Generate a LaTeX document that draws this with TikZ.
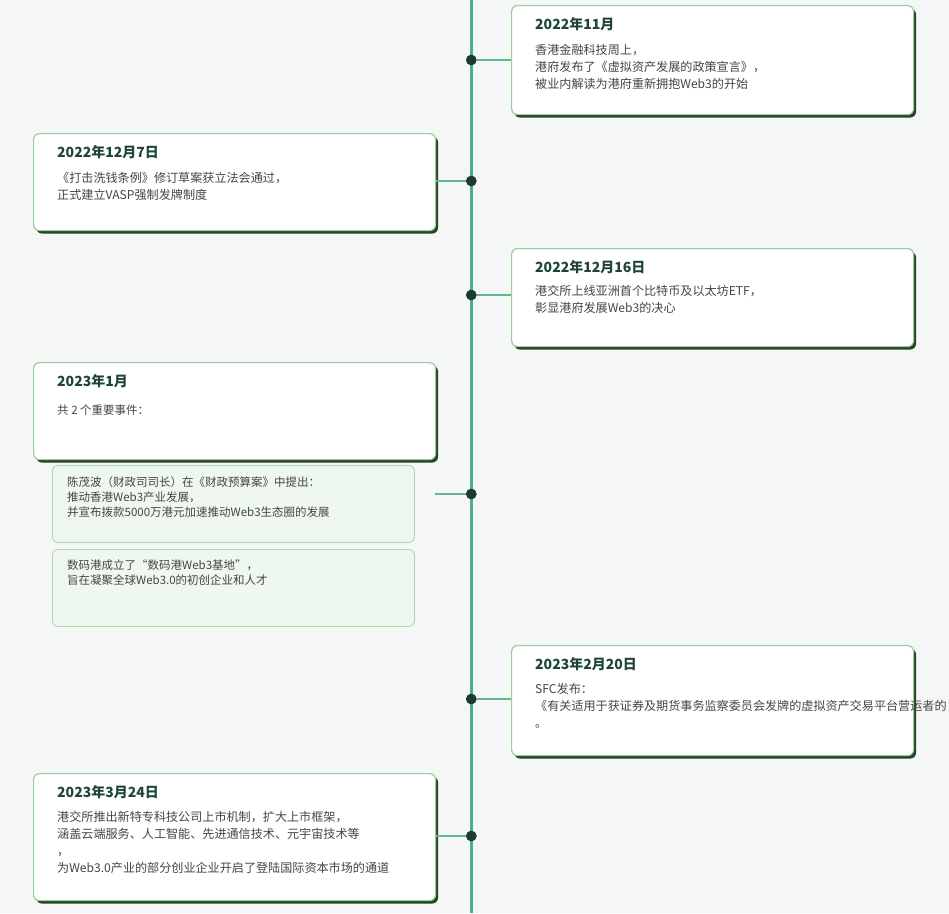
\documentclass[tikz,border=0pt]{standalone}
\usepackage{fontspec}
\setmainfont{Noto Sans CJK SC}
\usetikzlibrary{shadows}
\definecolor{bgc}{HTML}{F5F7F6}
\definecolor{axisc}{HTML}{4FAE86}
\definecolor{linkc}{HTML}{62B893}
\definecolor{dotc}{HTML}{1E3A2C}
\definecolor{boxborder}{HTML}{9CCB9C}
\definecolor{titlec}{HTML}{1F4634}
\definecolor{bodyc}{HTML}{454545}
\definecolor{subfill}{HTML}{EFF8EF}
\definecolor{subborder}{HTML}{A9D6A9}
\tikzset{
  mainbox/.style={draw=boxborder, line width=1.2pt, fill=white, rounded corners=6pt,
    anchor=north west, inner sep=0pt,
    drop shadow={shadow xshift=2.5pt, shadow yshift=-3pt, fill=black!85!green, opacity=0.85}},
  subbox/.style={draw=subborder, line width=0.8pt, fill=subfill, rounded corners=5pt,
    anchor=north west, inner sep=0pt, minimum width=362pt, minimum height=77pt},
  titletext/.style={anchor=west, inner sep=0pt, text=titlec,
    font=\fontsize{14}{16}\selectfont\bfseries},
  bodytext/.style={anchor=north west, inner sep=0pt, text=bodyc, align=left,
    font=\fontsize{12.1}{17}\selectfont},
  subtext/.style={anchor=north west, inner sep=0pt, text=bodyc, align=left,
    font=\fontsize{11.5}{15}\selectfont},
  axisline/.style={draw=axisc, line width=3.5pt},
  linkline/.style={draw=linkc, line width=1.8pt},
  dotnode/.style={circle, fill=dotc, inner sep=0pt, minimum size=10.5pt},
}
\begin{document}
\begin{tikzpicture}[x=1pt,y=-1pt]
\fill[bgc] (0,0) rectangle (949,913);
\useasboundingbox (0,0) rectangle (949,913);

% axis
\coordinate (axtop) at (471.3,0);
\coordinate (axbot) at (471.3,913);
\draw[axisline] (axtop) -- (axbot);

% dots
\node[dotnode] (d1) at (471.3,60) {};
\node[dotnode] (d2) at (471.3,181) {};
\node[dotnode] (d3) at (471.3,295) {};
\node[dotnode] (d4) at (471.3,494) {};
\node[dotnode] (d5) at (471.3,699) {};
\node[dotnode] (d6) at (471.3,836) {};

% boxes
\node[mainbox, minimum width=402pt, minimum height=109pt] (b1) at (511,5) {};
\node[mainbox, minimum width=402pt, minimum height=97pt] (b2) at (33,133) {};
\node[mainbox, minimum width=402pt, minimum height=98pt] (b3) at (511,248) {};
\node[mainbox, minimum width=402pt, minimum height=97pt] (b4) at (33,362) {};
\node[subbox] (s1) at (52,465) {};
\node[subbox] (s2) at (52,549) {};
\node[mainbox, minimum width=402pt, minimum height=110pt] (b5) at (511,645) {};
\node[mainbox, minimum width=402pt, minimum height=127pt] (b6) at (33,773) {};

% connectors
\draw[linkline] (d1) -- (d1 -| b1.west);
\draw[linkline] (d2) -- (d2 -| b2.east);
\draw[linkline] (d3) -- (d3 -| b3.west);
\coordinate (c4) at (435,494);
\draw[linkline] (d4) -- (c4);
\draw[linkline] (d5) -- (d5 -| b5.west);
\draw[linkline] (d6) -- (d6 -| b6.east);
\foreach \d in {d1,d2,d3,d4,d5,d6} \node[dotnode] at (\d) {};

% texts
\node[titletext] (t1) at (535,24.5) {2022年11月};
\node[bodytext] (x1) at (535,44) {香港金融科技周上，\\港府发布了《虚拟资产发展的政策宣言》，\\被业内解读为港府重新拥抱Web3的开始};

\node[titletext] (t2) at (57,152) {2022年12月7日};
\node[bodytext] (x2) at (57,172) {《打击洗钱条例》修订草案获立法会通过，\\正式建立VASP强制发牌制度};

\node[titletext] (t3) at (535,267) {2022年12月16日};
\node[bodytext] (x3) at (535,285.5) {港交所上线亚洲首个比特币及以太坊ETF，\\彰显港府发展Web3的决心};

\node[titletext] (t4) at (57,381) {2023年1月};
\node[bodytext, font=\fontsize{11.5}{15}\selectfont] (x4) at (57,405) {共 2 个重要事件：};

\node[subtext] (y1) at (67,476) {陈茂波（财政司司长）在《财政预算案》中提出：\\推动香港Web3产业发展，\\并宣布拨款5000万港元加速推动Web3生态圈的发展};
\node[subtext] (y2) at (67,560) {数码港成立了“数码港Web3基地”，\\旨在凝聚全球Web3.0的初创企业和人才};

\node[titletext] (t5) at (535,664) {2023年2月20日};
\node[bodytext] (x5) at (535,683) {SFC发布：\\《有关适用于获证券及期货事务监察委员会发牌的虚拟资产交易平台营运者的\\。};

\node[titletext] (t6) at (57,792) {2023年3月24日};
\node[bodytext] (x6) at (57,811) {港交所推出新特专科技公司上市机制，扩大上市框架，\\涵盖云端服务、人工智能、先进通信技术、元宇宙技术等\\，\\为Web3.0产业的部分创业企业开启了登陆国际资本市场的通道};
\end{tikzpicture}
\end{document}
